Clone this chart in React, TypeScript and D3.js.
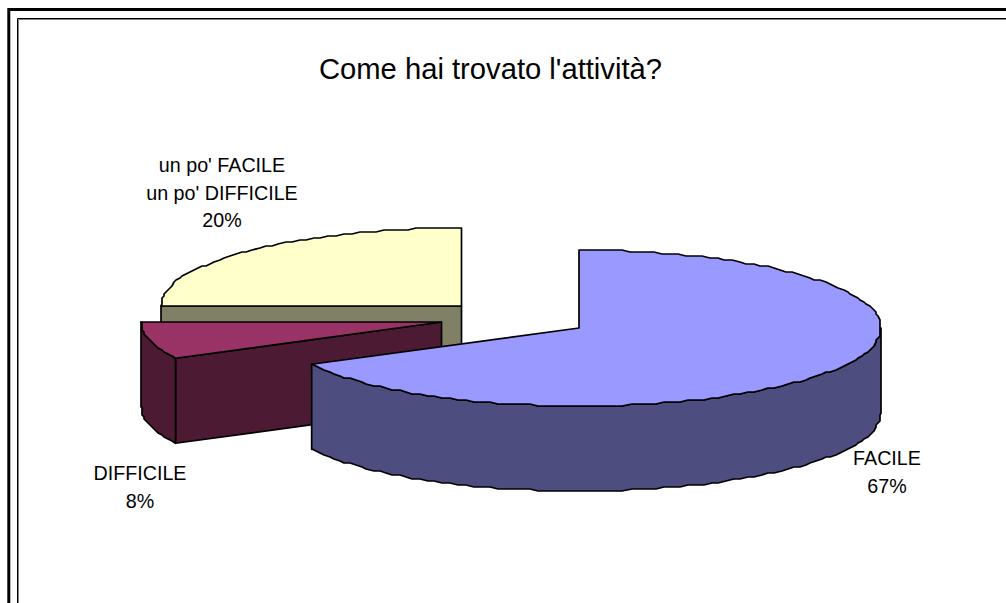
import React from 'react';
import * as d3 from 'd3';

// slice labels and the share of the circle each one covers
const categories = ['FACILE', 'DIFFICILE', "un po' FACILE\nun po' DIFFICILE"];
const shares = [67.3, 7.7, 25];
const percentLabels = ['67%', '8%', '20%'];
const topColors = ['#9999FF', '#993366', '#FFFFCC'];
const sideColors = ['#4D4D80', '#4D1A33', '#808066'];

const title = "Come hai trovato l'attività?";

const width = 1006;
const height = 603;
const ry = 78;
const depth = 85;
const lineGap = 27.6;

// layout of the exploded slices, same order as categories
const apexes: [number, number][] = [[579, 328], [441.5, 322], [461.5, 306]];
const radii = [302, 300.5, 300.5];
const labelPos: [number, number][] = [[887, 465], [140, 480], [222, 172]];

const HALF = Math.PI;
const TAU = Math.PI * 2;
const STEP = 0.028;

// the original outline is stair stepped, so snap it to a coarse grid
const snap = (v: number) => Math.round(v / 2) * 2;

// samples sit on one shared angle grid so top edge and wall edge stay together
const rim = (cx: number, cy: number, rx: number, a0: number, a1: number) => {
  const at = (a: number): [number, number] => [cx + rx * Math.sin(a), cy - ry * Math.cos(a)];
  const pts: [number, number][] = [at(a0)];
  for (let k = Math.floor(a0 / STEP) + 1; k * STEP < a1; k++) {
    const [x, y] = at(k * STEP);
    pts.push([snap(x), snap(y)]);
  }
  pts.push(at(a1));
  return pts;
};

const line = d3.line();

const pie = d3.pie<number>().sort(null).startAngle(0).endAngle(TAU);

const App = () => {
  const arcs = pie(shares);
  const order = [2, 1, 0];

  return (
    <svg
      width={width}
      height={height}
      style={{ position: 'absolute', left: 0, top: 0, background: '#fff' }}
      fontFamily="'Liberation Sans', Arial, sans-serif"
    >
      {/* frame: only top and left are inside the picture */}
      <path d="M8.8 603V9.5H1006" fill="none" stroke="#000" strokeWidth={3} />
      <path d="M18.5 603V19.5H1006" fill="none" stroke="#808080" strokeWidth={1} />
      <path d="M17.5 603V18.5H1006" fill="none" stroke="#000" strokeWidth={1} />

      <text x={490.5} y={79} fontSize={29.2} textAnchor="middle" fill="#000">{title}</text>

      {order.map((i) => {
        const { startAngle, endAngle } = arcs[i];
        const [cx, cy] = apexes[i];
        const rx = radii[i];
        const outline = rim(cx, cy, rx, startAngle, endAngle);
        const top = line([[cx, cy], ...outline]) + 'Z';

        // part of the outer wall that faces the viewer
        const a0 = Math.max(startAngle, HALF / 2);
        const a1 = Math.min(endAngle, (HALF * 3) / 2);
        let wall: string | null = null;
        if (a1 > a0) {
          const upper = rim(cx, cy, rx, a0, a1);
          const lower = upper.map(([x, y]) => [x, y + depth] as [number, number]).reverse();
          wall = line([...upper, ...lower]) + 'Z';
        }

        // the cut at the start angle shows when it faces forward
        let cut: string | null = null;
        if (Math.sin(startAngle) < -1e-6) {
          const [ex, ey] = outline[0];
          cut = line([[cx, cy], [ex, ey], [ex, ey + depth], [cx, cy + depth]]) + 'Z';
        }

        return (
          <g key={categories[i]} stroke="#000" strokeWidth={1.7} strokeLinejoin="round">
            {cut && <path d={cut} fill={sideColors[i]} />}
            {wall && <path d={wall} fill={sideColors[i]} />}
            <path d={top} fill={topColors[i]} />
          </g>
        );
      })}

      {categories.map((c, i) => {
        const rows = [...c.split('\n'), percentLabels[i]];
        return (
          <text key={c} textAnchor="middle" fontSize={19.7} fill="#000">
            {rows.map((r, j) => (
              <tspan key={j} x={labelPos[i][0]} y={labelPos[i][1] + j * lineGap}>{r}</tspan>
            ))}
          </text>
        );
      })}
    </svg>
  );
};

export default App;
